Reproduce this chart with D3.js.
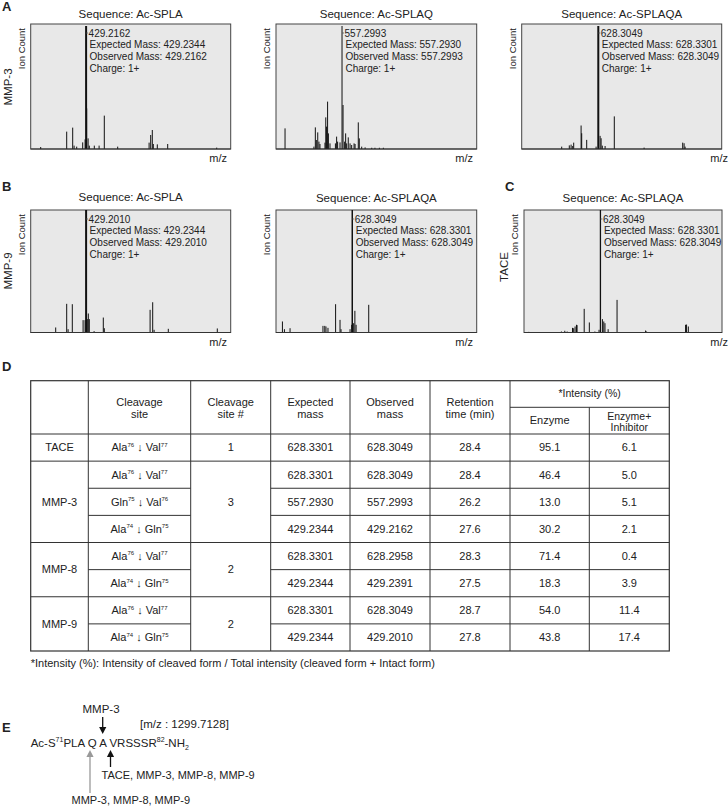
<!DOCTYPE html>
<html>
<head>
<meta charset="utf-8">
<script src="https://cdn.jsdelivr.net/npm/d3@7"></script>
<style>
  body { margin: 0; background: #fff; }
  svg { display: block; font-family: "Liberation Sans", Arial, sans-serif; }
</style>
</head>
<body>
<svg id="fig" width="728" height="806"></svg>
<script>
// Spectra: [position along m/z axis (0-100), relative ion count (0-100)]
var peaksA1 = [[5.0,1.6],[18.0,13.9],[21.0,17.1],[21.7,2.7],[23.0,1.9],[26.0,5.3],[27.2,7.7],[27.7,98.4],[28.0,32.5],
    [28.7,8.5],[29.3,2.7],[31.8,2.7],[34.2,2.7],[36.8,26.7],[43.5,1.9],[59.2,5.1],[60.0,11.2],[60.8,15.2],
    [61.3,4],[63.3,3.7],[68.5,4],[93.0,1.1]];
var peaksA2 = [[4.5,16.5],[18.9,1.9],[19.6,17.3],[20.1,7.2],[20.8,13.3],[21.4,5.9],[21.9,4],[24.4,5.1],[24.8,25.3],
    [25.2,17.9],[25.7,37.9],[26.1,12.5],[26.9,4.5],[29.6,4.5],[30.2,9.9],[30.7,5.9],[31.9,5.3],[32.9,98.4],
    [33.4,35.2],[34.2,5.9],[34.7,12.5],[35.2,4.5],[36.0,9.3],[36.9,4.5],[37.7,3.2],[38.9,4.5],[39.4,4],
    [41.0,21.3],[41.5,8.5],[42.7,1.9],[44.4,1.3],[47.7,1],[49.3,1],[51.5,1],[53.5,1]];
var peaksA3 = [[20.0,1.9],[23.8,2.9],[24.7,3.5],[25.5,2.4],[26.0,5.1],[29.7,18.8],[30.0,12.6],[32.5,7.3],[37.2,1.9],
    [38.3,98.4],[39.2,10.5],[39.7,8.6],[40.3,2.7],[41.7,2.4],[46.3,26.1],[61.2,1.1],[80.5,5.1],[81.2,4.6],[81.7,1.9]];
var peaksB1 = [[12.5,4.1],[18.0,23.4],[18.7,2.7],[20.8,23.1],[26.2,10.1],[27.2,10.1],[27.7,100],[28.3,10.9],
    [28.8,15.5],[29.3,10.9],[31.7,1.1],[36.3,12.2],[36.8,3.5],[59.7,18.5],[61.0,24.7],[61.7,2.2],[68.8,3],[93.3,3.3]];
var peaksB2 = [[3.2,9],[4.2,2.7],[7.0,3.5],[23.4,5.4],[24.3,5.4],[24.9,4.9],[25.9,3.8],[29.7,23.1],[31.9,10.3],
    [32.4,2.7],[36.9,2.7],[37.7,6.3],[38.0,100],[38.7,7.6],[39.3,17.7],[39.9,6.3],[46.2,22.6]];
var peaksC = [[2.4,0.5],[18.9,0.8],[20.6,1.4],[21.8,0.8],[24.5,3.8],[25.1,3.5],[25.8,4.9],[26.5,6.3],[26.8,6],
    [30.4,19.3],[33.0,8.2],[35.8,0.8],[37.9,2.2],[38.6,100],[39.6,10.9],[40.3,9],[40.9,7.6],[42.5,2.7],
    [47.0,26.6],[61.4,1.6],[61.9,0.8],[81.6,6.3],[82.1,6.5],[83.0,4.9]];

var spectrumTitles = ["Sequence: Ac-SPLA", "Sequence: Ac-SPLAQ", "Sequence: Ac-SPLAQA",
    "Sequence: Ac-SPLA", "Sequence: Ac-SPLAQA", "Sequence: Ac-SPLAQA"];
var spectrumExpected = ["429.2344", "557.2930", "628.3301", "429.2344", "628.3301", "628.3301"];
var spectrumObserved = ["429.2162", "557.2993", "628.3049", "429.2010", "628.3049", "628.3049"];
var spectrumCharge = "1+";

// Table D
var enzymes = ["TACE", "MMP-3", "MMP-8", "MMP-9"];
var enzymeRowCount = [1, 3, 2, 2];
var siteNumbers = ["1", "3", "2", "2"];
var cleavageSites = [
    ["Ala", "76", "Val", "77"],
    ["Ala", "76", "Val", "77"], ["Gln", "75", "Val", "76"], ["Ala", "74", "Gln", "75"],
    ["Ala", "76", "Val", "77"], ["Ala", "74", "Gln", "75"],
    ["Ala", "76", "Val", "77"], ["Ala", "74", "Gln", "75"]
];
var expectedMass = ["628.3301", "628.3301", "557.2930", "429.2344", "628.3301", "429.2344", "628.3301", "429.2344"];
var observedMass = ["628.3049", "628.3049", "557.2993", "429.2162", "628.2958", "429.2391", "628.3049", "429.2010"];
var retentionTime = ["28.4", "28.4", "26.2", "27.6", "28.3", "27.5", "28.7", "27.8"];
var intensityEnzyme = ["95.1", "46.4", "13.0", "30.2", "71.4", "18.3", "54.0", "43.8"];
var intensityInhibitor = ["6.1", "5.0", "5.1", "2.1", "0.4", "3.9", "11.4", "17.4"];


var svg = d3.select("#fig");

// Panel letters
[["A", 2, 11], ["B", 2, 191], ["C", 505, 191], ["D", 2, 371], ["E", 2, 732]].forEach(function(d) {
    svg.append("text").attr("x", d[1]).attr("y", d[2])
        .attr("font-size", 13).attr("font-weight", "bold").attr("fill", "#222").text(d[0]);
});

// Layout of the six spectrum panels
var panels = [
    {peaks: peaksA1, x0: 30.7, x1: 230.7, y0: 24, y1: 149, mzX: 227, mainW: 2, titleDy: 6},
    {peaks: peaksA2, x0: 276, x1: 476.7, y0: 24, y1: 149, mzX: 473, mainW: 1, titleDy: 6},
    {peaks: peaksA3, x0: 521.7, x1: 721.7, y0: 24, y1: 149, mzX: 728, mainW: 2, titleDy: 6},
    {peaks: peaksB1, x0: 30.7, x1: 230.7, y0: 210, y1: 332.5, mzX: 227, mainW: 2, titleDy: 9},
    {peaks: peaksB2, x0: 276, x1: 476.7, y0: 210, y1: 332.5, mzX: 473, mainW: 1.5, titleDy: 8},
    {peaks: peaksC, x0: 524, x1: 722, y0: 210, y1: 332.5, mzX: 728, mainW: 1.3, titleDy: 8}
];

panels.forEach(function(p, i) {
    var g = svg.append("g");
    var x = d3.scaleLinear().domain([0, 100]).range([p.x0, p.x1]);
    var y = d3.scaleLinear().domain([0, 100]).range([p.y1, p.y0]);

    g.append("rect")
        .attr("x", p.x0).attr("y", p.y0)
        .attr("width", p.x1 - p.x0).attr("height", p.y1 - p.y0)
        .attr("fill", "#e8e8e8").attr("stroke", "#444").attr("stroke-width", 1);

    var main = d3.greatest(p.peaks, function(d) { return d[1]; });

    g.selectAll("line.peak")
        .data(p.peaks)
        .join("line")
        .attr("class", "peak")
        .attr("x1", function(d) { return x(d[0]); })
        .attr("x2", function(d) { return x(d[0]); })
        .attr("y1", y(0))
        .attr("y2", function(d) { return y(d[1]); })
        .attr("stroke", "#111")
        .attr("stroke-width", function(d) { return d === main ? p.mainW : 1; });

    // baseline
    g.append("line")
        .attr("x1", p.x0).attr("x2", p.x1).attr("y1", y(0)).attr("y2", y(0))
        .attr("stroke", "#333").attr("stroke-width", 1);

    // title
    g.append("text")
        .attr("x", (p.x0 + p.x1) / 2).attr("y", p.y0 - p.titleDy)
        .attr("text-anchor", "middle").attr("font-size", 11.5).attr("fill", "#222")
        .text(spectrumTitles[i]);

    // Ion Count
    g.append("text")
        .attr("transform", "translate(" + (p.x0 - 6) + "," + (p.y0 + 4) + ") rotate(-90)")
        .attr("text-anchor", "end").attr("font-size", 9.5).attr("fill", "#222")
        .text("Ion Count");

    // m/z
    g.append("text")
        .attr("x", p.mzX).attr("y", p.y1 + 13)
        .attr("text-anchor", "end").attr("font-size", 11).attr("fill", "#222")
        .text("m/z");

    // annotation of the main peak
    var ax = x(main[0]);
    g.append("line")
        .attr("x1", ax).attr("x2", ax + 2)
        .attr("y1", p.y0 + 9).attr("y2", p.y0 + 9)
        .attr("stroke", "#555").attr("stroke-width", 0.8);
    var lines = [spectrumObserved[i], "Expected Mass: " + spectrumExpected[i],
        "Observed Mass: " + spectrumObserved[i], "Charge: " + spectrumCharge];
    g.selectAll("text.ann")
        .data(lines)
        .join("text")
        .attr("class", "ann")
        .attr("x", function(d, j) { return ax + (j === 0 ? 2.5 : 3.5); })
        .attr("y", function(d, j) { return p.y0 + 12.5 + j * 11.7; })
        .attr("font-size", 10).attr("fill", "#222")
        .text(function(d) { return d; });
});

// Enzyme labels of the spectrum rows
[["MMP-3", 12, 87], ["MMP-9", 12, 271], ["TACE", 508, 267]].forEach(function(d) {
    svg.append("text")
        .attr("transform", "translate(" + d[1] + "," + d[2] + ") rotate(-90)")
        .attr("text-anchor", "middle").attr("font-size", 11.5).attr("fill", "#222")
        .text(d[0]);
});

// ---------- Table D ----------
var colEdges = [30.7, 88.3, 190.7, 270.7, 350, 430, 510, 589.3, 669.3];
var headTop = 380.7, headMid = 407.3, headBottom = 434, tableBottom = 651;
var rowY = d3.scaleBand().domain(d3.range(expectedMass.length)).range([headBottom, tableBottom]);
var colMid = function(c) { return (colEdges[c] + colEdges[c + 1]) / 2; };
var lineColor = "#333";
var tg = svg.append("g").attr("fill", "#222").attr("font-size", 11);

// group starts for merged cells
var groupStart = [];
enzymeRowCount.reduce(function(acc, n) { groupStart.push(acc); return acc + n; }, 0);

// outer border
tg.append("rect")
    .attr("x", colEdges[0]).attr("y", headTop)
    .attr("width", colEdges[8] - colEdges[0]).attr("height", tableBottom - headTop)
    .attr("fill", "none").attr("stroke", lineColor).attr("stroke-width", 1.2);

// vertical lines
colEdges.slice(1, 8).forEach(function(cx, k) {
    tg.append("line")
        .attr("x1", cx).attr("x2", cx)
        .attr("y1", k + 1 === 7 ? headMid : headTop).attr("y2", tableBottom)
        .attr("stroke", lineColor);
});
// header lines
tg.append("line").attr("x1", colEdges[6]).attr("x2", colEdges[8])
    .attr("y1", headMid).attr("y2", headMid).attr("stroke", lineColor);
tg.append("line").attr("x1", colEdges[0]).attr("x2", colEdges[8])
    .attr("y1", headBottom).attr("y2", headBottom).attr("stroke", lineColor);

// row lines
d3.range(1, expectedMass.length).forEach(function(r) {
    var yy = rowY(r);
    if (groupStart.indexOf(r) >= 0) {
        tg.append("line").attr("x1", colEdges[0]).attr("x2", colEdges[8])
            .attr("y1", yy).attr("y2", yy).attr("stroke", lineColor);
    } else {
        tg.append("line").attr("x1", colEdges[1]).attr("x2", colEdges[2])
            .attr("y1", yy).attr("y2", yy).attr("stroke", lineColor);
        tg.append("line").attr("x1", colEdges[3]).attr("x2", colEdges[8])
            .attr("y1", yy).attr("y2", yy).attr("stroke", lineColor);
    }
});

// header text
var headers = [
    {c: 1, lines: ["Cleavage", "site"], y: 401.7},
    {c: 2, lines: ["Cleavage", "site #"], y: 401.7},
    {c: 3, lines: ["Expected", "mass"], y: 401.7},
    {c: 4, lines: ["Observed", "mass"], y: 401.7},
    {c: 5, lines: ["Retention", "time (min)"], y: 401.7},
    {c: 6, lines: ["Enzyme"], y: 420.3},
    {c: 7, lines: ["Enzyme+", "Inhibitor"], y: 416.2, size: 10.5, lh: 11.6}
];
headers.forEach(function(h) {
    h.lines.forEach(function(t, j) {
        tg.append("text")
            .attr("x", colMid(h.c)).attr("y", h.y + j * (h.lh || 12.3))
            .attr("dy", "0.35em").attr("text-anchor", "middle")
            .attr("font-size", h.size || 11)
            .text(t);
    });
});
tg.append("text")
    .attr("x", (colEdges[6] + colEdges[8]) / 2).attr("y", 393.6)
    .attr("dy", "0.35em").attr("text-anchor", "middle").attr("font-size", 10.5)
    .text("*Intensity (%)");

// merged cells: enzyme and cleavage site #
enzymes.forEach(function(e, k) {
    var top = rowY(groupStart[k]);
    var bot = top + enzymeRowCount[k] * rowY.bandwidth();
    tg.append("text").attr("x", colMid(0)).attr("y", (top + bot) / 2)
        .attr("dy", "0.35em").attr("text-anchor", "middle").text(e);
    tg.append("text").attr("x", colMid(2)).attr("y", (top + bot) / 2)
        .attr("dy", "0.35em").attr("text-anchor", "middle").text(siteNumbers[k]);
});

// per-row cells
var rowCols = [[3, expectedMass], [4, observedMass], [5, retentionTime], [6, intensityEnzyme], [7, intensityInhibitor]];
rowCols.forEach(function(rc) {
    tg.selectAll(null)
        .data(rc[1])
        .join("text")
        .attr("x", colMid(rc[0]))
        .attr("y", function(d, r) { return rowY(r) + rowY.bandwidth() / 2; })
        .attr("dy", "0.35em").attr("text-anchor", "middle")
        .text(function(d) { return d; });
});

// cleavage sites with superscripts
cleavageSites.forEach(function(s, r) {
    var t = tg.append("text")
        .attr("x", colMid(1)).attr("y", rowY(r) + rowY.bandwidth() / 2)
        .attr("dy", "0.35em").attr("text-anchor", "middle");
    t.append("tspan").text(s[0]);
    t.append("tspan").attr("font-size", 6).attr("dy", -4.5).text(s[1]);
    t.append("tspan").attr("dy", 4.5).attr("font-size", 11).text(" \u2193 ");
    t.append("tspan").text(s[2]);
    t.append("tspan").attr("font-size", 6).attr("dy", -4.5).text(s[3]);
});

// footnote
svg.append("text").attr("x", 30.7).attr("y", 662.7).attr("dy", "0.35em")
    .attr("font-size", 11).attr("fill", "#222")
    .text("*Intensity (%): Intensity of cleaved form / Total intensity (cleaved form + Intact form)");

// ---------- Panel E ----------
var eg = svg.append("g").attr("fill", "#222").attr("font-size", 11.5);

eg.append("text").attr("x", 101).attr("y", 709).attr("dy", "0.35em")
    .attr("text-anchor", "middle").text("MMP-3");
eg.append("text").attr("x", 140).attr("y", 724).attr("dy", "0.35em")
    .text("[m/z : 1299.7128]");

var seq = eg.append("text").attr("x", 30.7).attr("y", 747);
seq.append("tspan").text("Ac-S");
seq.append("tspan").attr("font-size", 7).attr("dy", -5).text("71");
seq.append("tspan").attr("dy", 5).text("PLA Q A VRSSSR");
seq.append("tspan").attr("font-size", 7).attr("dy", -5).text("82");
seq.append("tspan").attr("dy", 5).text("-NH");
seq.append("tspan").attr("font-size", 7).attr("dy", 3).text("2");

function arrow(xp, yTip, yTail, dir, color) {
    var h = 7, w = 3.6;
    var base = yTip - dir * h;
    eg.append("line").attr("x1", xp).attr("x2", xp)
        .attr("y1", yTail).attr("y2", base)
        .attr("stroke", color).attr("stroke-width", 1.3);
    eg.append("path")
        .attr("d", "M" + xp + "," + yTip + "L" + (xp - w) + "," + base + "L" + (xp + w) + "," + base + "Z")
        .attr("fill", color);
}
arrow(102.7, 734, 717, 1, "#111");
arrow(90, 750, 793, -1, "#999");
arrow(110.5, 750, 767, -1, "#111");

eg.append("text").attr("x", 101.5).attr("y", 775).attr("dy", "0.35em")
    .attr("font-size", 11).text("TACE, MMP-3, MMP-8, MMP-9");
eg.append("text").attr("x", 71.5).attr("y", 800).attr("dy", "0.35em")
    .attr("font-size", 11).text("MMP-3, MMP-8, MMP-9");
</script>
</body>
</html>
